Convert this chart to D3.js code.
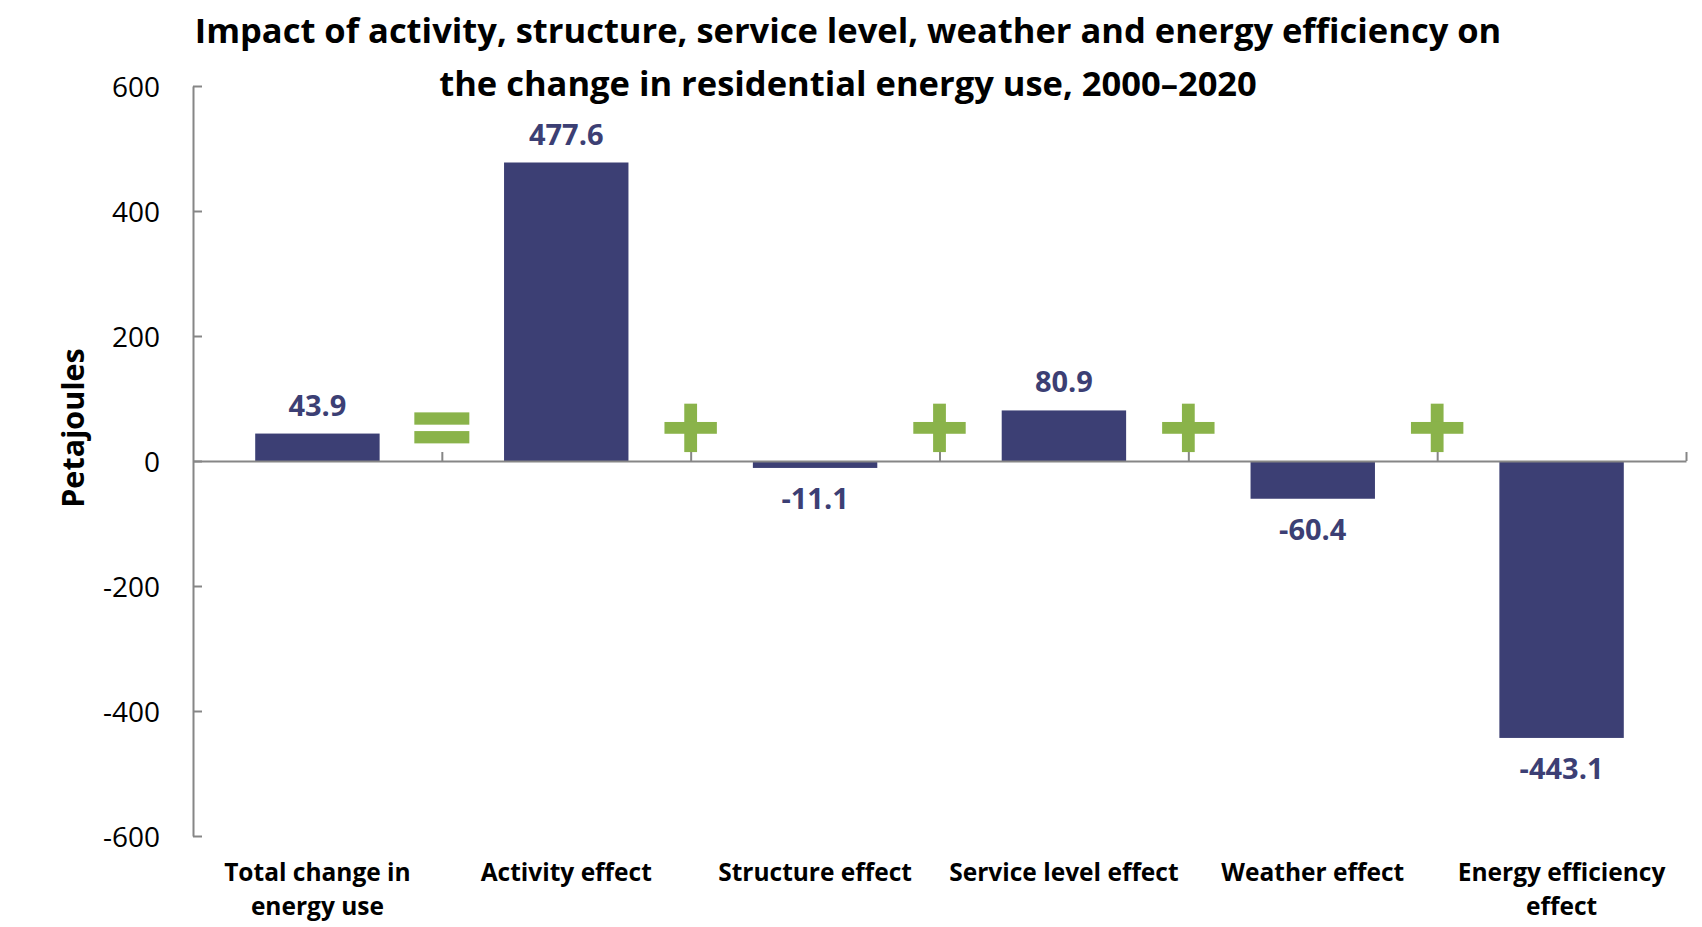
<!DOCTYPE html>
<html>
<head>
<meta charset="utf-8">
<script src="https://cdn.jsdelivr.net/npm/d3@7/dist/d3.min.js"></script>
<style>
  body { margin: 0; background: #fff; }
  text { font-family: "Open Sans", "Noto Sans", sans-serif; }
</style>
</head>
<body>
<div id="chart"></div>
<script>
const titleLines = [
  "Impact of activity, structure, service level, weather and energy efficiency on",
  "the change in residential energy use, 2000\u20132020"
];
const categories = [
  "Total change in\nenergy use",
  "Activity effect",
  "Structure effect",
  "Service level effect",
  "Weather effect",
  "Energy efficiency\neffect"
];
const values = [43.9, 477.6, -11.1, 80.9, -60.4, -443.1];
const operators = ["=", "+", "+", "+", "+"];
const operatorLevel = 53;
const yTicks = [-600, -400, -200, 0, 200, 400, 600];
const yTitle = "Petajoules";

const W = 1702, H = 927;
const margin = { top: 86, right: 16, bottom: 91, left: 193 };
const width = W - margin.left - margin.right;
const height = H - margin.top - margin.bottom;

const barColor = "#3c3f74";
const green = "#8ab34a";
const axisColor = "#868686";

const svg = d3.select("#chart")
  .append("svg")
  .attr("width", W)
  .attr("height", H);

const g = svg.append("g")
  .attr("transform", `translate(${margin.left},${margin.top})`);

const x = d3.scaleBand()
  .domain(categories)
  .range([0, width])
  .paddingInner(0.5)
  .paddingOuter(0.25);

const y = d3.scaleLinear()
  .domain([-600, 600])
  .range([height, 0]);

// boundaries between categories, for the x ticks and the operators
const xb = d3.scaleLinear()
  .domain([0, categories.length])
  .range([0, width]);

// y axis, ticks pointing inward
const yAxis = g.append("g")
  .call(d3.axisLeft(y)
    .tickValues(yTicks)
    .tickSizeInner(-9)
    .tickSizeOuter(0)
    .tickPadding(33)
    .tickFormat(d => String(d)));
yAxis.select(".domain").attr("stroke", axisColor).attr("stroke-width", 2);
yAxis.selectAll(".tick line").attr("stroke", axisColor).attr("stroke-width", 2);
yAxis.selectAll("text")
  .attr("fill", "#000")
  .style("font-size", "28px")
  .attr("dy", "0.36em");

// bars
g.selectAll(".bar")
  .data(values)
  .enter().append("rect")
  .attr("class", "bar")
  .attr("x", (d, i) => x(categories[i]))
  .attr("width", x.bandwidth())
  .attr("y", d => y(Math.max(0, d)))
  .attr("height", d => Math.abs(y(d) - y(0)))
  .attr("fill", barColor);

// x axis along zero, ticks at category boundaries pointing up
const xAxis = g.append("g")
  .attr("transform", `translate(0,${y(0)})`)
  .call(d3.axisBottom(xb)
    .tickValues(d3.range(1, categories.length + 1))
    .tickSizeInner(-9)
    .tickSizeOuter(0)
    .tickFormat(""));
xAxis.select(".domain").attr("stroke", axisColor).attr("stroke-width", 2);
xAxis.selectAll(".tick line").attr("stroke", axisColor).attr("stroke-width", 2);

// value labels
g.selectAll(".val")
  .data(values)
  .enter().append("text")
  .attr("class", "val")
  .attr("x", (d, i) => x(categories[i]) + x.bandwidth() / 2)
  .attr("y", d => d >= 0 ? y(d) - 18 : y(d) + 41.5)
  .attr("text-anchor", "middle")
  .attr("fill", barColor)
  .style("font-size", "29px")
  .style("font-weight", "bold")
  .text(d => d.toFixed(1));

// = and + signs between the bars
const ops = g.selectAll(".op")
  .data(operators)
  .enter().append("g")
  .attr("class", "op")
  .attr("transform", (d, i) => `translate(${xb(i + 1)},${y(operatorLevel)})`);

ops.filter(d => d === "=").each(function() {
  const s = d3.select(this);
  s.append("rect").attr("x", -27.5).attr("y", -15.5).attr("width", 55).attr("height", 12.3).attr("fill", green);
  s.append("rect").attr("x", -27.5).attr("y", 3.2).attr("width", 55).attr("height", 12.3).attr("fill", green);
});

ops.filter(d => d === "+").each(function() {
  const s = d3.select(this);
  s.append("rect").attr("x", -6.4).attr("y", -24.2).attr("width", 12.8).attr("height", 48.4).attr("fill", green);
  s.append("rect").attr("x", -26.2).attr("y", -5.9).attr("width", 52.4).attr("height", 11.8).attr("fill", green);
});

// category labels
const cat = g.selectAll(".cat")
  .data(categories)
  .enter().append("text")
  .attr("class", "cat")
  .attr("x", d => x(d) + x.bandwidth() / 2)
  .attr("y", height + 45)
  .attr("text-anchor", "middle")
  .attr("fill", "#000")
  .style("font-size", "24.5px")
  .style("font-weight", "bold");

cat.selectAll("tspan")
  .data(d => d.split("\n"))
  .enter().append("tspan")
  .attr("x", function() { return d3.select(this.parentNode).attr("x"); })
  .attr("dy", (d, i) => i === 0 ? 0 : 34)
  .text(d => d);

// y axis title
svg.append("text")
  .attr("transform", `translate(84,428) rotate(-90)`)
  .attr("text-anchor", "middle")
  .attr("fill", "#000")
  .style("font-size", "30.5px")
  .style("font-weight", "bold")
  .text(yTitle);

// chart title
svg.selectAll(".title")
  .data(titleLines)
  .enter().append("text")
  .attr("class", "title")
  .attr("x", 848)
  .attr("y", (d, i) => 43 + i * 53)
  .attr("text-anchor", "middle")
  .attr("fill", "#000")
  .style("font-size", "34.5px")
  .style("font-weight", "bold")
  .text(d => d);
</script>
</body>
</html>
